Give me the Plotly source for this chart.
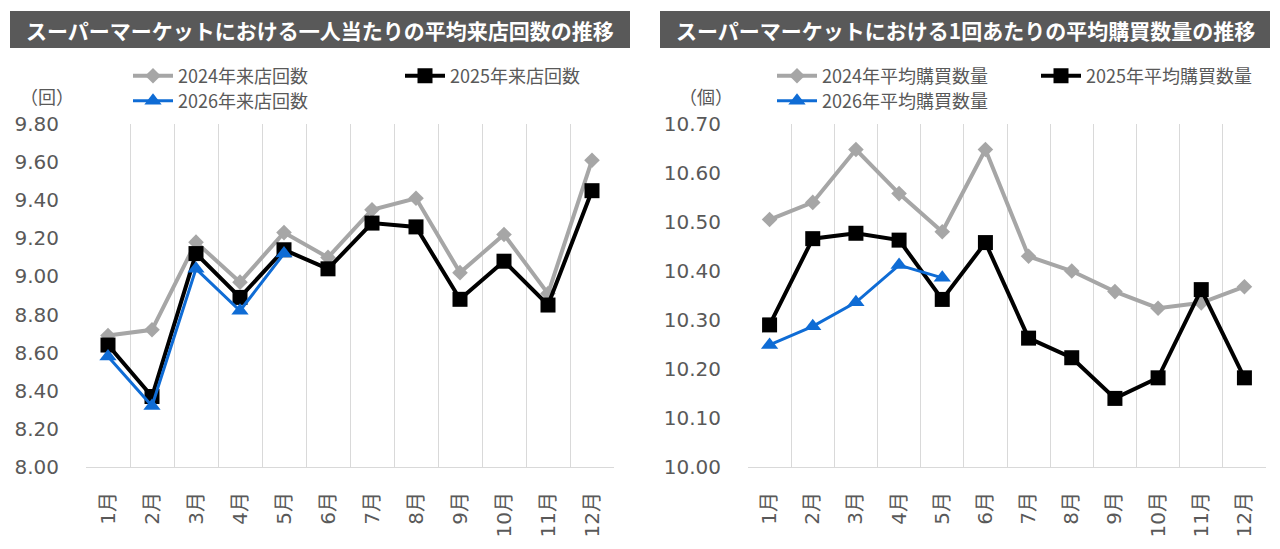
import plotly.graph_objects as go

months = ["1月", "2月", "3月", "4月", "5月", "6月", "7月", "8月", "9月", "10月", "11月", "12月"]

visits_2024 = [8.69, 8.72, 9.18, 8.97, 9.23, 9.10, 9.35, 9.41, 9.02, 9.22, 8.91, 9.61]
visits_2025 = [8.64, 8.37, 9.12, 8.89, 9.14, 9.04, 9.28, 9.26, 8.88, 9.08, 8.85, 9.45]
visits_2026 = [8.58, 8.32, 9.04, 8.82, 9.12]

qty_2024 = [10.505, 10.540, 10.648, 10.558, 10.480, 10.648, 10.430, 10.400, 10.358, 10.324, 10.335, 10.368]
qty_2025 = [10.290, 10.466, 10.477, 10.463, 10.342, 10.458, 10.263, 10.223, 10.140, 10.182, 10.362, 10.182]
qty_2026 = [10.249, 10.287, 10.336, 10.412, 10.386]

left_names = ["2024年来店回数", "2025年来店回数", "2026年来店回数"]
right_names = ["2024年平均購買数量", "2025年平均購買数量", "2026年平均購買数量"]
left_title = "スーパーマーケットにおける一人当たりの平均来店回数の推移"
right_title = "スーパーマーケットにおける1回あたりの平均購買数量の推移"

W, H = 1280, 549
GRAY = "#A6A6A6"
BLACK = "#000000"
BLUE = "#0F6CD5"
TXT = "#595959"
GRID = "#D9D9D9"
CJK = "Noto Sans CJK JP"
NUM = "DejaVu Sans, Noto Sans CJK JP"

def px(x):
    return x / W

def py(y):
    return 1 - y / H

styles = [
    dict(color=GRAY, width=4, symbol="diamond", size=12),
    dict(color=BLACK, width=4, symbol="square", size=15),
    dict(color=BLUE, width=3, symbol="triangle-up", size=15),
]

fig = go.Figure()

left_series = [visits_2024, visits_2025, visits_2026]
right_series = [qty_2024, qty_2025, qty_2026]

for i, (vals, name) in enumerate(zip(left_series, left_names)):
    s = styles[i]
    fig.add_trace(go.Scatter(
        x=months[:len(vals)], y=vals, name=name, mode="lines+markers",
        line=dict(color=s["color"], width=s["width"]),
        marker=dict(symbol=s["symbol"], size=s["size"], color=s["color"]),
        xaxis="x", yaxis="y", legend="legend" if i == 0 else f"legend{i+1}",
    ))

for i, (vals, name) in enumerate(zip(right_series, right_names)):
    s = styles[i]
    fig.add_trace(go.Scatter(
        x=months[:len(vals)], y=vals, name=name, mode="lines+markers",
        line=dict(color=s["color"], width=s["width"]),
        marker=dict(symbol=s["symbol"], size=s["size"], color=s["color"]),
        xaxis="x2", yaxis="y2", legend=f"legend{i+4}",
    ))

ydom = [py(467), py(124)]

xcommon = dict(
    type="category", categoryorder="array", categoryarray=months,
    range=[-0.5, 11.5], tickson="boundaries", showgrid=True, gridcolor=GRID, gridwidth=1,
    showline=True, linecolor=GRID, linewidth=1, ticks="", tickangle=-90,
    ticklabelstandoff=16, tickfont=dict(family=NUM, size=20, color=TXT),
    zeroline=False, fixedrange=True, automargin=False,
)
ycommon = dict(
    showgrid=False, zeroline=False, showline=False, ticks="", tickformat=".2f",
    tickfont=dict(family=NUM, size=20, color=TXT), ticklabelstandoff=26,
    fixedrange=True, automargin=False,
)

fig.update_layout(
    width=W, height=H, margin=dict(l=0, r=0, t=0, b=0, autoexpand=False),
    paper_bgcolor="white", plot_bgcolor="white",
    xaxis=dict(domain=[px(86), px(614)], anchor="y", **xcommon),
    yaxis=dict(domain=ydom, anchor="x", range=[8.0, 9.8], dtick=0.2, tick0=8.0, **ycommon),
    xaxis2=dict(domain=[px(748), px(1266)], anchor="y2", **xcommon),
    yaxis2=dict(domain=ydom, anchor="x2", range=[10.0, 10.7], dtick=0.1, tick0=10.0, **ycommon),
    showlegend=True,
)

leg_pos = [
    ("legend", 128, 76), ("legend2", 400, 76), ("legend3", 128, 101),
    ("legend4", 772, 76), ("legend5", 1036, 76), ("legend6", 772, 101),
]
for key, lx, ly in leg_pos:
    fig.update_layout({key: dict(
        x=px(lx), y=py(ly), xanchor="left", yanchor="middle", xref="paper", yref="paper",
        bgcolor="rgba(0,0,0,0)", borderwidth=0, font=dict(family=CJK, size=18, color=TXT),
        itemwidth=40, tracegroupgap=0,
    )})

# Title bars
for x0, x1, text in [(10, 630, left_title), (660, 1270, right_title)]:
    fig.add_shape(type="rect", xref="paper", yref="paper",
                  x0=px(x0), x1=px(x1), y0=py(48), y1=py(11),
                  fillcolor="#595959", line=dict(width=0), layer="below")
    fig.add_annotation(x=px((x0 + x1) / 2), y=py(30), xref="paper", yref="paper",
                       text=f"<b>{text}</b>", showarrow=False,
                       font=dict(family=CJK, size=21, color="white"),
                       xanchor="center", yanchor="middle")

# Unit labels
fig.add_annotation(x=px(47), y=py(96), xref="paper", yref="paper", text="（回）",
                   showarrow=False, font=dict(family=CJK, size=18, color=TXT),
                   xanchor="center", yanchor="middle")
fig.add_annotation(x=px(706), y=py(96), xref="paper", yref="paper", text="（個）",
                   showarrow=False, font=dict(family=CJK, size=18, color=TXT),
                   xanchor="center", yanchor="middle")

fig.write_html("out.html")
